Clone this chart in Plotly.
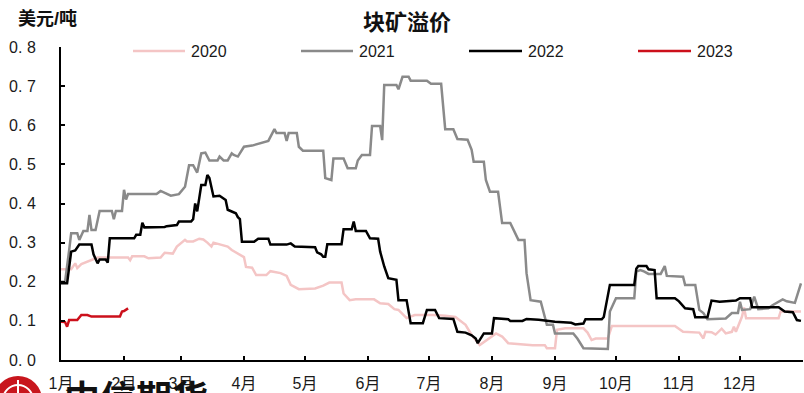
import pandas as pd
import plotly.graph_objects as go

# ---- data: daily lump-ore premium (USD/t), plotted on a common calendar year ----
dates_2020 = ["01-01", "01-06", "01-08", "01-09", "01-11", "01-14", "01-19", "02-03", "02-04", "02-05",
              "02-11", "02-13", "02-19", "02-21", "02-25", "02-27", "03-03", "03-04", "03-07", "03-10",
              "03-12", "03-14", "03-16", "03-17", "03-20", "03-24", "03-26", "03-28", "04-01", "04-02",
              "04-05", "04-07", "04-12", "04-14", "04-19", "04-22", "04-24", "04-28", "05-06", "05-10",
              "05-13", "05-19", "05-20", "05-23", "05-26", "06-04", "06-07", "06-11", "06-14", "06-16",
              "06-20", "06-24", "07-03", "07-09", "07-14", "07-19", "07-22", "07-26", "07-29", "08-03",
              "08-06", "08-09", "08-21", "08-27", "08-28", "09-01", "09-02", "09-06", "09-15", "09-17",
              "09-19", "09-21", "09-27", "09-29", "10-30", "11-03", "11-11", "11-13", "11-14", "11-17",
              "11-19", "11-22", "11-24", "11-27", "11-28", "11-29", "12-02", "12-03", "12-04", "12-20",
              "12-21", "12-31"]
values_2020 = [0.232, 0.232, 0.247, 0.235, 0.245, 0.251, 0.262, 0.262, 0.255, 0.265,
               0.265, 0.260, 0.262, 0.274, 0.272, 0.290, 0.307, 0.303, 0.303, 0.310,
               0.308, 0.300, 0.290, 0.300, 0.295, 0.290, 0.281, 0.275, 0.263, 0.238,
               0.236, 0.217, 0.217, 0.227, 0.222, 0.215, 0.192, 0.181, 0.183, 0.190,
               0.198, 0.198, 0.170, 0.153, 0.155, 0.155, 0.145, 0.143, 0.130, 0.128,
               0.107, 0.115, 0.115, 0.113, 0.110, 0.090, 0.064, 0.038, 0.050, 0.068,
               0.060, 0.043, 0.038, 0.038, 0.030, 0.030, 0.077, 0.081, 0.081, 0.070,
               0.051, 0.055, 0.055, 0.087, 0.087, 0.072, 0.070, 0.055, 0.072, 0.071,
               0.065, 0.080, 0.068, 0.072, 0.085, 0.072, 0.111, 0.134, 0.107, 0.107,
               0.124, 0.124]

dates_2021 = ["01-01", "01-03", "01-05", "01-06", "01-09", "01-10", "01-12", "01-14", "01-15", "01-16",
              "01-18", "01-19", "01-20", "01-26", "01-27", "01-28", "01-31", "02-01", "02-02", "02-03",
              "02-17", "02-19", "02-22", "02-24", "02-28", "03-03", "03-05", "03-07", "03-09", "03-11",
              "03-13", "03-15", "03-19", "03-20", "03-22", "03-24", "03-26", "03-27", "03-29", "04-01",
              "04-05", "04-10", "04-13", "04-16", "04-17", "04-21", "04-22", "04-23", "04-27", "04-28",
              "04-30", "05-10", "05-11", "05-14", "05-15", "05-20", "05-22", "05-26", "05-27", "05-29",
              "06-02", "06-03", "06-07", "06-08", "06-09", "06-15", "06-16", "06-18", "06-21", "06-22",
              "06-30", "07-02", "07-07", "07-09", "07-13", "07-15", "07-20", "07-21", "07-22", "07-23",
              "07-28", "07-29", "07-31", "08-04", "08-06", "08-10", "08-11", "08-14", "08-17", "08-18",
              "08-20", "08-25", "08-28", "08-31", "09-01", "09-10", "09-12", "09-15", "09-27", "09-28",
              "10-01", "10-10", "10-11", "10-13", "10-15", "10-17", "10-23", "10-25", "10-26", "11-03",
              "11-04", "11-09", "11-11", "11-13", "11-15", "11-24", "11-27", "11-30", "12-01", "12-02",
              "12-06", "12-08", "12-10", "12-15", "12-17", "12-22", "12-24", "12-28", "12-31"]
values_2021 = [0.200, 0.200, 0.280, 0.324, 0.324, 0.307, 0.330, 0.330, 0.371, 0.332,
               0.332, 0.360, 0.381, 0.381, 0.360, 0.381, 0.381, 0.435, 0.410, 0.424,
               0.424, 0.432, 0.425, 0.420, 0.424, 0.443, 0.498, 0.498, 0.479, 0.528,
               0.530, 0.510, 0.510, 0.520, 0.510, 0.510, 0.528, 0.524, 0.520, 0.545,
               0.548, 0.556, 0.560, 0.590, 0.580, 0.580, 0.560, 0.580, 0.580, 0.545,
               0.535, 0.535, 0.465, 0.460, 0.515, 0.515, 0.490, 0.490, 0.510, 0.524,
               0.524, 0.598, 0.598, 0.562, 0.703, 0.703, 0.692, 0.724, 0.724, 0.714,
               0.714, 0.706, 0.706, 0.590, 0.590, 0.565, 0.563, 0.550, 0.537, 0.507,
               0.507, 0.460, 0.430, 0.430, 0.350, 0.350, 0.340, 0.307, 0.307, 0.222,
               0.153, 0.149, 0.090, 0.090, 0.068, 0.068, 0.055, 0.030, 0.028, 0.124,
               0.158, 0.158, 0.226, 0.230, 0.226, 0.220, 0.220, 0.240, 0.215, 0.213,
               0.192, 0.192, 0.128, 0.120, 0.104, 0.106, 0.120, 0.120, 0.149, 0.128,
               0.130, 0.162, 0.130, 0.132, 0.140, 0.155, 0.150, 0.146, 0.196]

dates_2022 = ["01-01", "01-04", "01-06", "01-08", "01-10", "01-16", "01-17", "01-19", "01-20", "01-23",
              "01-24", "01-25", "02-06", "02-07", "02-09", "02-10", "02-11", "02-21", "02-22", "02-27",
              "02-28", "03-06", "03-07", "03-08", "03-09", "03-11", "03-13", "03-14", "03-15", "03-17",
              "03-20", "03-23", "03-24", "03-28", "03-29", "03-30", "03-31", "04-06", "04-08", "04-13",
              "04-14", "04-22", "04-24", "04-26", "05-06", "05-07", "05-09", "05-10", "05-11", "05-12",
              "05-19", "05-20", "05-24", "05-25", "05-26", "05-31", "06-02", "06-06", "06-07", "06-09",
              "06-11", "06-15", "06-16", "06-20", "06-22", "06-28", "06-30", "07-04", "07-06", "07-13",
              "07-15", "07-19", "07-22", "07-24", "07-25", "07-27", "07-28", "08-01", "08-02", "08-09",
              "08-10", "08-16", "08-18", "08-24", "09-01", "09-09", "09-11", "09-15", "09-16", "09-24",
              "09-25", "09-28", "10-10", "10-11", "10-12", "10-16", "10-17", "10-20", "10-21", "10-30",
              "11-01", "11-04", "11-08", "11-09", "11-15", "11-17", "11-21", "11-29", "12-01", "12-06",
              "12-07", "12-20", "12-23", "12-27", "12-29", "12-31"]
values_2022 = [0.196, 0.196, 0.277, 0.280, 0.295, 0.295, 0.270, 0.247, 0.257, 0.257,
               0.249, 0.311, 0.311, 0.320, 0.320, 0.351, 0.339, 0.340, 0.342, 0.345,
               0.354, 0.354, 0.360, 0.400, 0.380, 0.447, 0.447, 0.473, 0.465, 0.418,
               0.420, 0.409, 0.384, 0.375, 0.365, 0.360, 0.302, 0.302, 0.310, 0.310,
               0.295, 0.295, 0.298, 0.290, 0.288, 0.275, 0.270, 0.264, 0.264, 0.296,
               0.296, 0.334, 0.334, 0.354, 0.330, 0.330, 0.311, 0.310, 0.277, 0.239,
               0.209, 0.205, 0.153, 0.153, 0.094, 0.094, 0.128, 0.128, 0.107, 0.105,
               0.072, 0.070, 0.063, 0.055, 0.043, 0.060, 0.068, 0.068, 0.107, 0.104,
               0.100, 0.100, 0.105, 0.103, 0.098, 0.095, 0.091, 0.093, 0.104, 0.104,
               0.110, 0.192, 0.192, 0.233, 0.240, 0.240, 0.232, 0.230, 0.158, 0.158,
               0.150, 0.132, 0.130, 0.109, 0.109, 0.152, 0.149, 0.152, 0.158, 0.158,
               0.135, 0.135, 0.124, 0.122, 0.102, 0.100]

dates_2023 = ["01-01", "01-03", "01-04", "01-05", "01-09", "01-11", "01-14", "01-16", "01-30", "01-31",
              "02-01", "02-03"]
values_2023 = [0.098, 0.097, 0.085, 0.102, 0.102, 0.115, 0.115, 0.111, 0.111, 0.124,
               0.125, 0.132]

series_names = ["2020", "2021", "2022", "2023"]
series_colors = ["#F4C5C5", "#8A8A8A", "#000000", "#CC101B"]
month_labels = ["1月", "2月", "3月", "4月", "5月", "6月", "7月", "8月", "9月", "10月", "11月", "12月"]
y_ticks = [0.0, 0.1, 0.2, 0.3, 0.4, 0.5, 0.6, 0.7, 0.8]

BASE_YEAR = 2022
FONT = "Liberation Sans, Noto Sans CJK SC, sans-serif"

# ---- page geometry (pixels) ----
W, H = 804, 393
ML, MR, MT, MB = 61, 1, 47, 33
PW, PH = W - ML - MR, H - MT - MB


def px_x(px):
    return (px - ML) / PW


def px_y(py):
    return (H - MB - py) / PH


def to_dates(md):
    return pd.to_datetime([f"{BASE_YEAR}-{d}" for d in md])


fig = go.Figure()
all_dates = [dates_2020, dates_2021, dates_2022, dates_2023]
all_values = [values_2020, values_2021, values_2022, values_2023]
for name, color, d, v in zip(series_names, series_colors, all_dates, all_values):
    fig.add_trace(go.Scatter(
        x=to_dates(d), y=v, mode="lines", name=name,
        line=dict(color=color, width=2.5), showlegend=False,
    ))

# ---- legend row drawn across the top ----
legend_line_x = [(133, 185), (301, 353), (469, 522), (638, 691)]
legend_y = 51
shapes = []
annotations = []
for name, color, (x0, x1) in zip(series_names, series_colors, legend_line_x):
    shapes.append(dict(type="line", xref="paper", yref="paper",
                       x0=px_x(x0), x1=px_x(x1), y0=px_y(legend_y), y1=px_y(legend_y),
                       line=dict(color=color, width=2.5)))
    annotations.append(dict(text=name, xref="paper", yref="paper",
                            x=px_x(x1 + 4), y=px_y(legend_y), xanchor="left", yanchor="middle",
                            showarrow=False, font=dict(family=FONT, size=16, color="#1a1a1a")))

# unit label
annotations.append(dict(text="美元/吨", xref="paper", yref="paper",
                        x=px_x(16), y=px_y(19), xanchor="left", yanchor="middle",
                        showarrow=False, font=dict(family=FONT, size=18, color="#111111", weight="bold")))

# company mark at the bottom-left corner
shapes.append(dict(type="circle", xref="paper", yref="paper", layer="above",
                   x0=px_x(-6), x1=px_x(42), y0=px_y(424), y1=px_y(376),
                   fillcolor="#C8161D", line=dict(color="#C8161D", width=0)))
shapes.append(dict(type="circle", xref="paper", yref="paper", layer="above",
                   x0=px_x(3), x1=px_x(33), y0=px_y(415), y1=px_y(385),
                   line=dict(color="white", width=2)))
shapes.append(dict(type="line", xref="paper", yref="paper", layer="above",
                   x0=px_x(18), x1=px_x(18), y0=px_y(393), y1=px_y(380),
                   line=dict(color="white", width=2)))
annotations.append(dict(text="中信期货", xref="paper", yref="paper",
                        x=px_x(62), y=px_y(368), xanchor="left", yanchor="top",
                        showarrow=False,
                        font=dict(family="Noto Sans CJK SC", size=36, color="#111111", weight="bold")))

month_starts = [f"{BASE_YEAR}-{m:02d}-01" for m in range(1, 13)] + [f"{BASE_YEAR + 1}-01-01"]

fig.update_layout(
    width=W, height=H,
    margin=dict(l=ML, r=MR, t=MT, b=MB, pad=0),
    paper_bgcolor="white", plot_bgcolor="white",
    title=dict(text="块矿溢价", x=407 / W, y=1 - 22 / H, xref="container", yref="container",
               xanchor="center", yanchor="middle",
               font=dict(family=FONT, size=22, color="#111111", weight="bold")),
    shapes=shapes, annotations=annotations,
    showlegend=False,
    xaxis=dict(type="date", range=[month_starts[0], month_starts[-1]],
               tickvals=month_starts, ticktext=month_labels + [""],
               ticks="inside", ticklen=4, tickwidth=1.5, tickcolor="black",
               showline=True, linecolor="black", linewidth=2,
               showgrid=False, zeroline=False, ticklabelstandoff=8,
               tickfont=dict(family=FONT, size=16, color="#1a1a1a")),
    yaxis=dict(range=[0, 0.8], tickvals=y_ticks,
               ticktext=[f"{v:.1f}".replace(".", ". ") for v in y_ticks],
               ticks="inside", ticklen=4, tickwidth=1.5, tickcolor="black",
               showline=True, linecolor="black", linewidth=2,
               showgrid=False, zeroline=False, ticklabelstandoff=20,
               tickfont=dict(family=FONT, size=16, color="#1a1a1a")),
)

fig.write_html("out.html")
